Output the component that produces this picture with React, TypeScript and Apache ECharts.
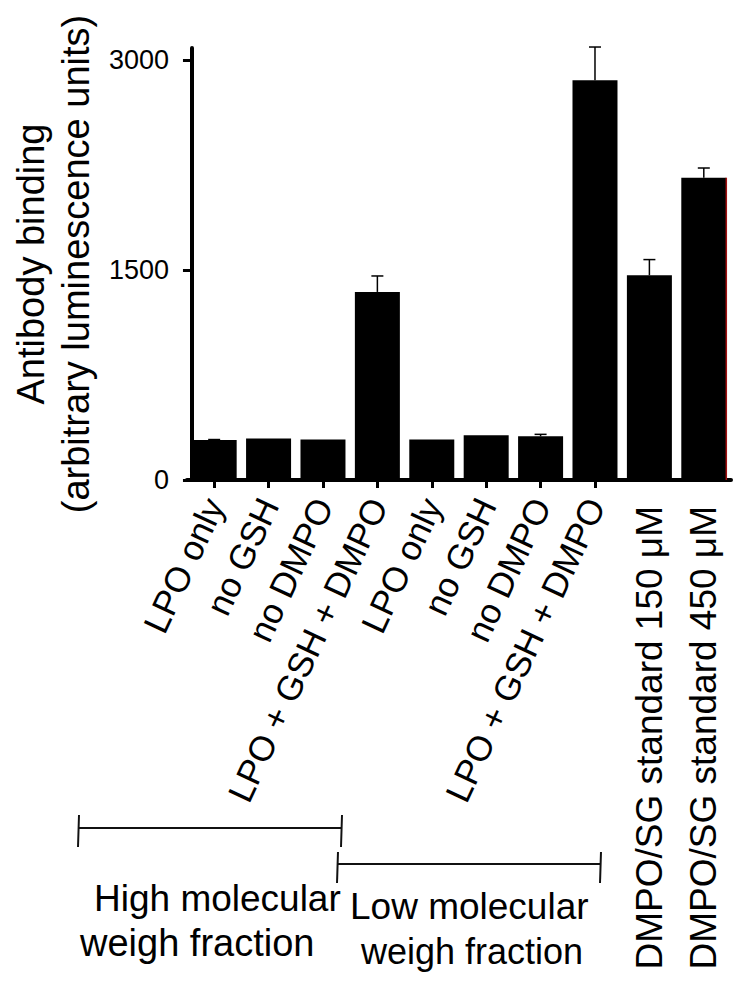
import React, { useEffect, useRef } from "react";
import * as echarts from "echarts";

const categories = [
  "LPO only",
  "no GSH",
  "no DMPO",
  "LPO + GSH + DMPO",
  "LPO only",
  "no GSH",
  "no DMPO",
  "LPO + GSH + DMPO",
  "DMPO/SG standard 150 μM",
  "DMPO/SG standard 450 μM",
];
const values = [285, 297, 290, 1343, 290, 319, 312, 2854, 1462, 2159];
const errors = [4, 0, 0, 114, 0, 0, 14, 238, 112, 69];
const yTicks = [0, 1500, 3000];
const yName = "Antibody binding\n(arbitrary luminescence units)";
const groupHigh = ["High molecular", "weigh fraction"];
const groupLow = ["Low molecular", "weigh fraction"];

const FONT = "'Liberation Sans', Arial, Helvetica, sans-serif";

export default function App() {
  const ref = useRef<HTMLDivElement>(null);
  useEffect(() => {
    document.body.style.margin = "0";
    if (!ref.current) return;
    const chart = echarts.init(ref.current, null, { renderer: "svg" });
    const lastIdx = categories.length - 1;
    chart.setOption({
      animation: false,
      backgroundColor: "#fff",
      textStyle: { fontFamily: FONT, color: "#000" },
      grid: { left: 180, width: 551, top: 48, height: 432 },
      xAxis: [
        {
          type: "category",
          data: categories,
          position: "bottom",
          boundaryGap: true,
          axisLine: { show: true, lineStyle: { color: "#000", width: 4 } },
          axisTick: {
            show: true,
            alignWithLabel: true,
            length: 8,
            lineStyle: { color: "#000", width: 3 },
          },
          axisLabel: {
            interval: (i: number) => i < 8,
            rotate: 65,
            fontSize: 35,
            fontFamily: FONT,
            color: "#000",
            margin: 20,
          },
        },
        {
          type: "category",
          data: categories,
          position: "bottom",
          boundaryGap: true,
          axisLine: { show: false },
          axisTick: { show: false },
          axisLabel: {
            interval: (i: number) => i >= 8,
            rotate: 90,
            fontSize: 37,
            fontFamily: FONT,
            color: "#000",
            margin: 26,
          },
        },
      ],
      yAxis: {
        type: "value",
        min: 0,
        max: 3085,
        offset: -5,
        splitLine: { show: false },
        axisLine: { show: true, lineStyle: { color: "#000", width: 4 } },
        axisTick: {
          show: true,
          length: 9,
          customValues: yTicks,
          lineStyle: { color: "#000", width: 3 },
        },
        axisLabel: {
          customValues: yTicks,
          formatter: (v: number) => String(v),
          fontSize: 27,
          fontFamily: FONT,
          color: "#000",
          margin: 23,
        },
        name: yName,
        nameLocation: "middle",
        nameRotate: 90,
        nameGap: 86,
        nameTextStyle: {
          fontSize: 38,
          lineHeight: 45,
          fontFamily: FONT,
          color: "#000",
        },
      },
      series: [
        {
          type: "bar",
          data: values,
          barWidth: 45,
          itemStyle: { color: "#000" },
          xAxisIndex: 0,
        },
        {
          type: "custom",
          xAxisIndex: 0,
          z: 5,
          data: values.map((v, i) => [i, v, errors[i]]),
          renderItem: (params: any, api: any) => {
            const i = api.value(0);
            const v = api.value(1);
            const e = api.value(2);
            const base = api.coord([i, v]);
            const top = api.coord([i, v + e]);
            const children: any[] = [];
            if (e > 0) {
              children.push({
                type: "line",
                shape: { x1: base[0], y1: base[1], x2: top[0], y2: top[1] },
                style: { stroke: "#000", lineWidth: 1.5 },
              });
              children.push({
                type: "line",
                shape: { x1: top[0] - 6, y1: top[1], x2: top[0] + 6, y2: top[1] },
                style: { stroke: "#000", lineWidth: 1.5 },
              });
            }
            if (i === lastIdx) {
              const zero = api.coord([i, 0]);
              children.push({
                type: "line",
                shape: { x1: base[0] + 22.5, y1: base[1], x2: zero[0] + 22.5, y2: zero[1] },
                style: { stroke: "#a01010", lineWidth: 1.5 },
              });
            }
            return { type: "group", children };
          },
        },
      ],
      graphic: [
        { type: "line", shape: { x1: 79, y1: 828, x2: 342, y2: 828 }, style: { stroke: "#111", lineWidth: 2 } },
        { type: "line", shape: { x1: 79, y1: 815, x2: 78, y2: 847 }, style: { stroke: "#111", lineWidth: 2 } },
        { type: "line", shape: { x1: 342, y1: 815, x2: 341, y2: 847 }, style: { stroke: "#111", lineWidth: 2 } },
        { type: "line", shape: { x1: 338, y1: 864, x2: 601, y2: 864 }, style: { stroke: "#111", lineWidth: 2 } },
        { type: "line", shape: { x1: 338, y1: 852, x2: 337, y2: 883 }, style: { stroke: "#111", lineWidth: 2 } },
        { type: "line", shape: { x1: 601, y1: 852, x2: 600, y2: 883 }, style: { stroke: "#111", lineWidth: 2 } },
        { type: "text", x: 94, y: 898, style: { text: groupHigh[0], font: `37px ${FONT}`, fill: "#000", textVerticalAlign: "middle" } },
        { type: "text", x: 80, y: 943, style: { text: groupHigh[1], font: `38px ${FONT}`, fill: "#000", textVerticalAlign: "middle" } },
        { type: "text", x: 350, y: 906, style: { text: groupLow[0], font: `37px ${FONT}`, fill: "#000", textVerticalAlign: "middle" } },
        { type: "text", x: 361, y: 951, style: { text: groupLow[1], font: `36px ${FONT}`, fill: "#000", textVerticalAlign: "middle" } },
      ],
    });
    return () => chart.dispose();
  }, []);
  return <div ref={ref} style={{ width: 751, height: 996 }} />;
}
